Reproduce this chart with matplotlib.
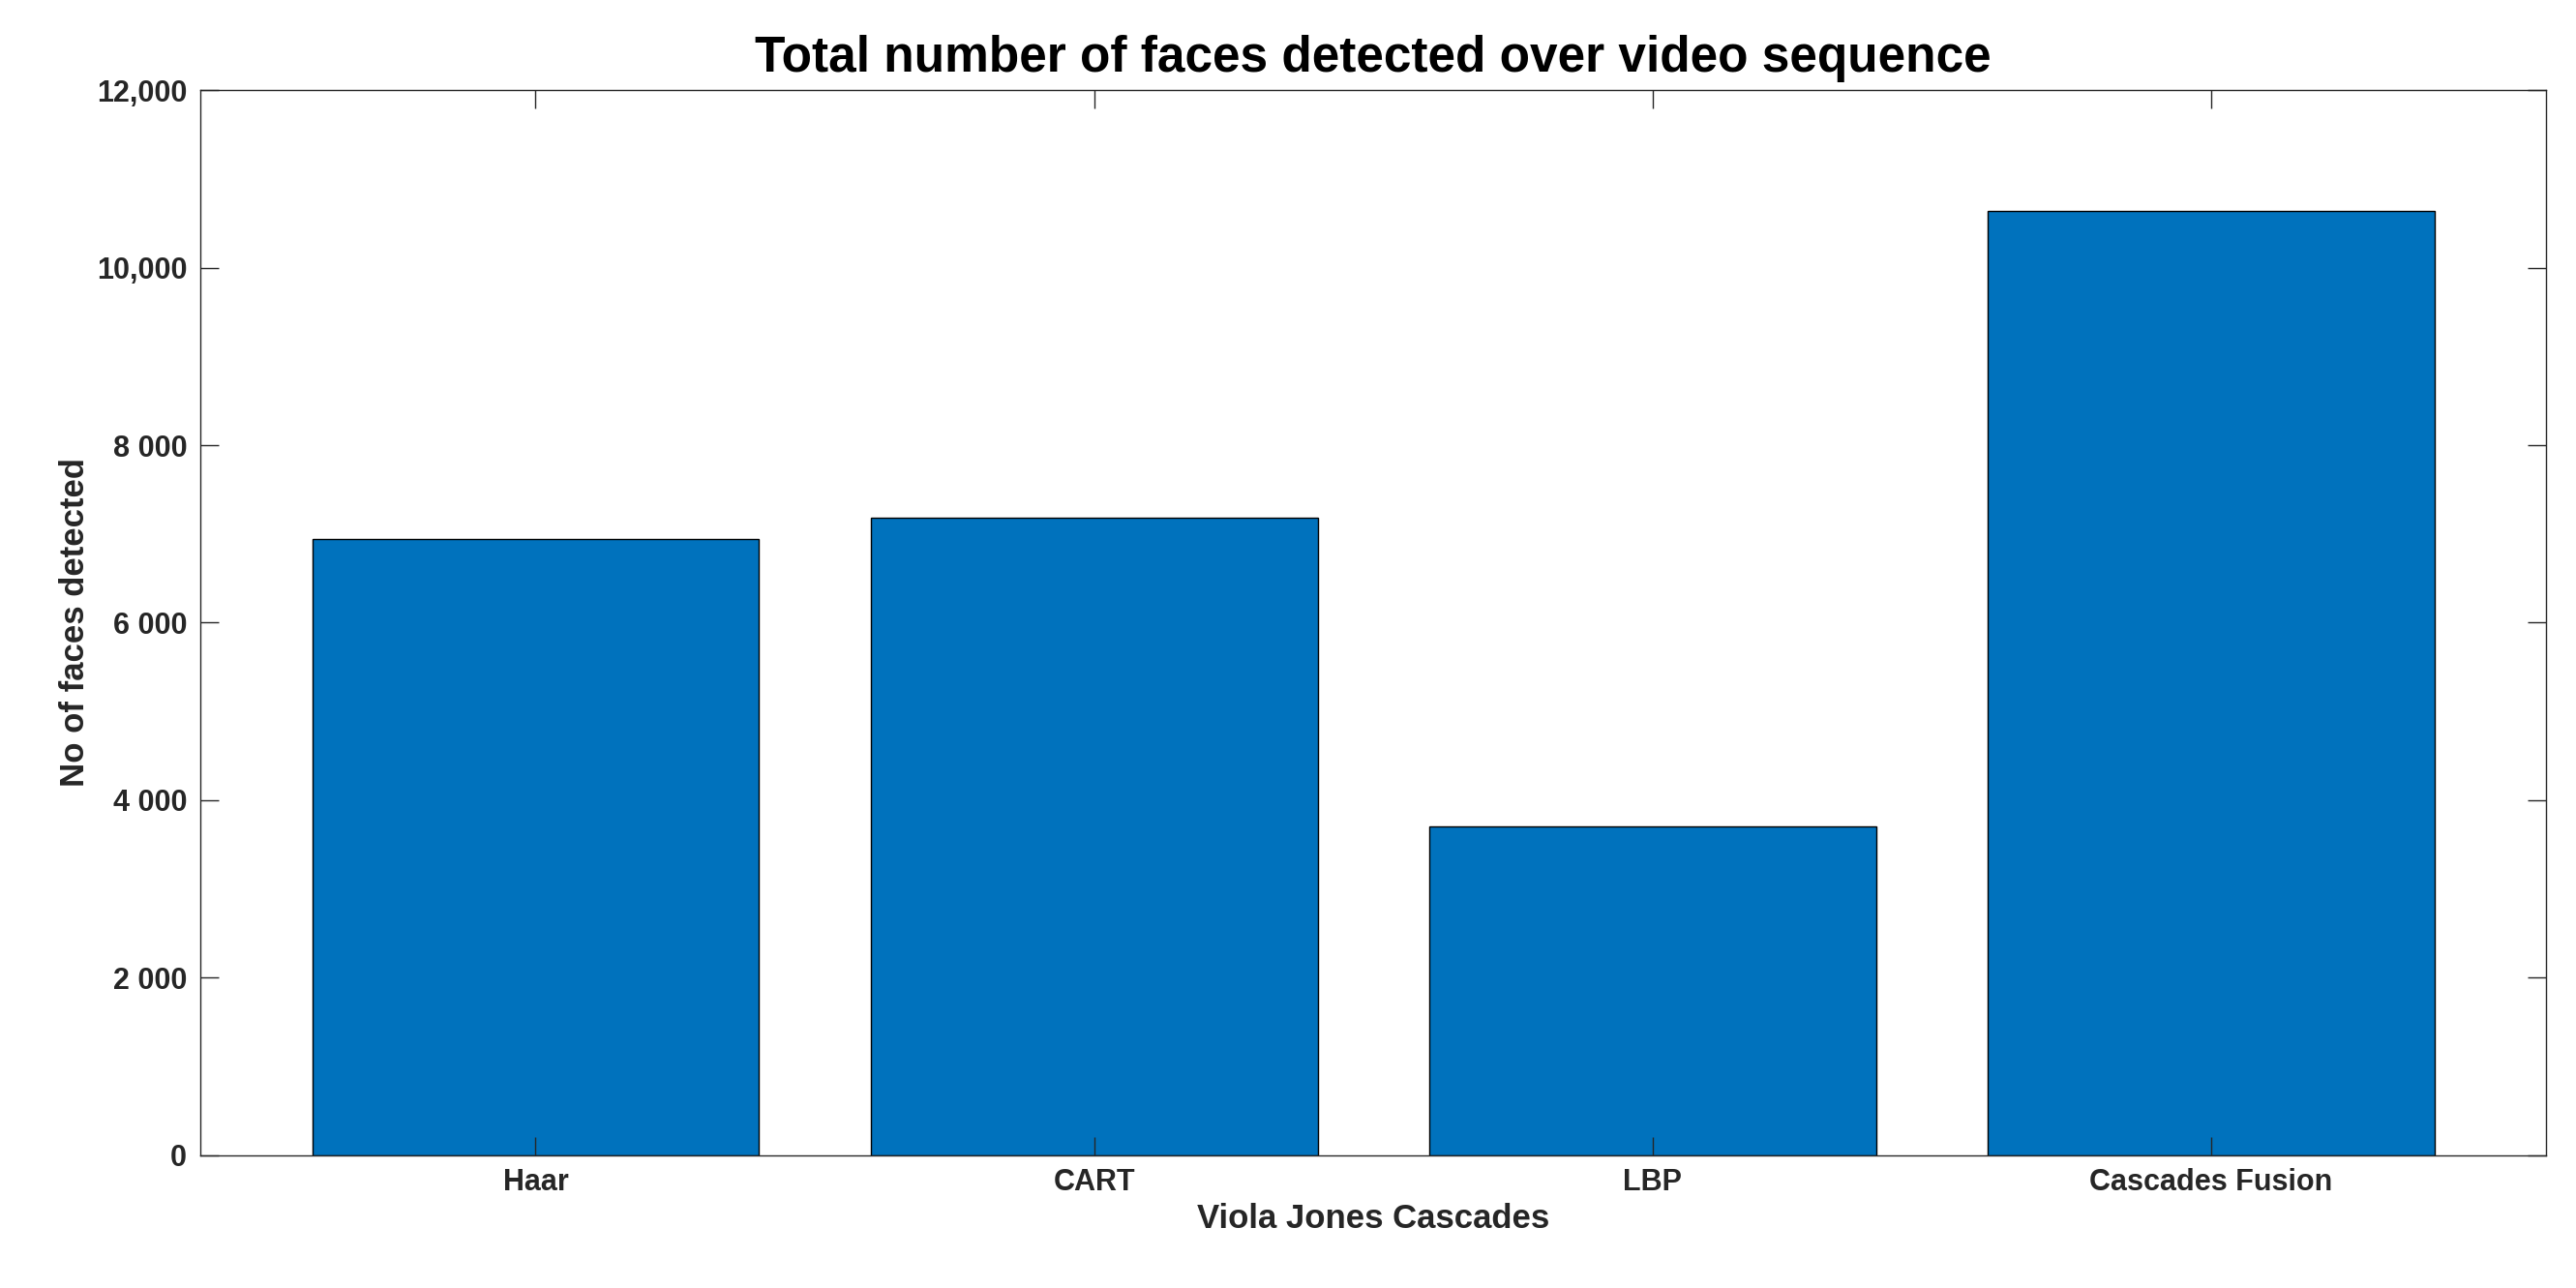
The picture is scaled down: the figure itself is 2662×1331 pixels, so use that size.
import matplotlib
matplotlib.use("Agg")
import matplotlib.pyplot as plt

plt.rcParams['font.family'] = ['Liberation Sans', 'DejaVu Sans']
plt.rcParams['font.weight'] = 'bold'

categories = ['Haar', 'CART', 'LBP', 'Cascades Fusion']
faces = [6940, 7185, 3705, 10645]
yticks = [0, 2000, 4000, 6000, 8000, 10000, 12000]
ytick_labels = ['0', '2 000', '4 000', '6 000', '8 000', '10,000', '12,000']

fig = plt.figure(figsize=(26.62, 13.31), dpi=100)
ax = fig.add_axes([0.0778, 0.1033, 0.9107, 0.8265])
x = range(len(categories))
ax.bar(x, faces, width=0.8, color='#0072BD', edgecolor='black', linewidth=1.0)

ax.set_xlim(-0.6, 3.6)
ax.set_ylim(0, 12000)
ax.set_xticks(list(x))
ax.set_xticklabels(categories)
ax.set_yticks(yticks)
ax.set_yticklabels(ytick_labels)
ax.tick_params(direction='in', top=True, right=True, length=14, width=1,
               labelsize=22, colors='#262626', pad=10)
for s in ax.spines.values():
    s.set_color('#262626')
    s.set_linewidth(1)

ax.set_title('Total number of faces detected over video sequence',
             fontsize=37, fontweight='bold', pad=14)
ax.set_xlabel('Viola Jones Cascades', fontsize=25, fontweight='bold', color='#262626')
ax.set_ylabel('No of faces detected', fontsize=25, fontweight='bold', color='#262626')

fig.savefig('out.png', dpi=100)
